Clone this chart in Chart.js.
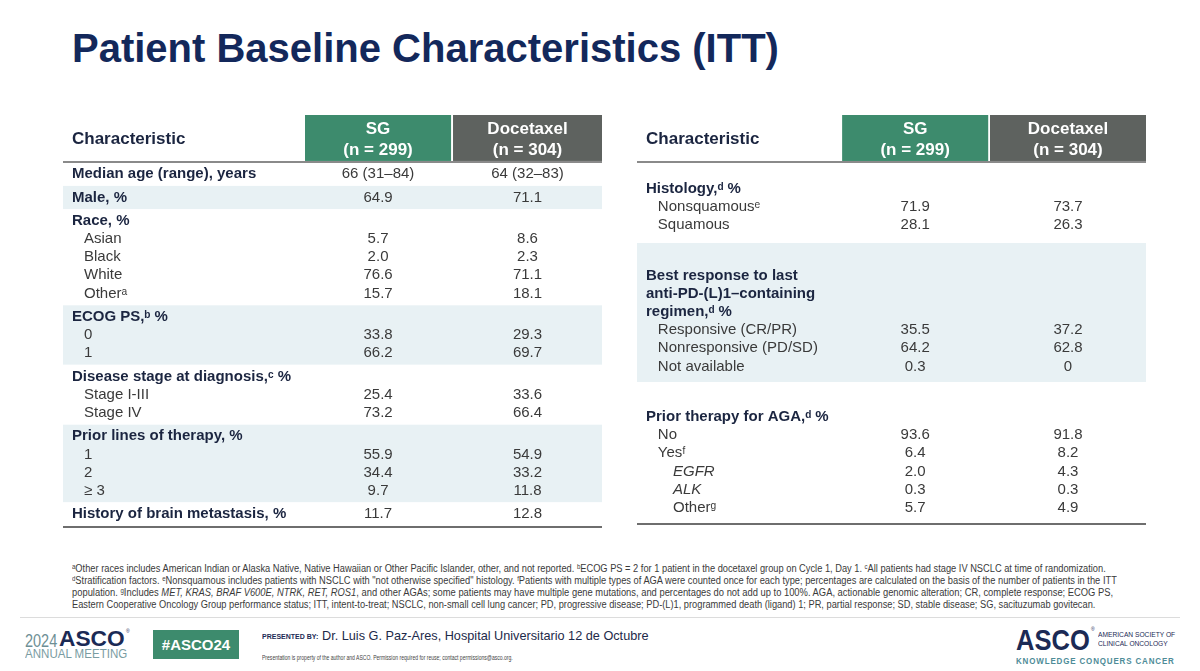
<!DOCTYPE html>
<html><head><meta charset="utf-8">
<script src="https://cdn.jsdelivr.net/npm/chart.js@4.4.1/dist/chart.umd.min.js"></script>
<style>
html,body{margin:0;padding:0;background:#fff;}
body{width:1200px;height:671px;position:relative;overflow:hidden;font-family:"Liberation Sans",Arial,sans-serif;}
#title{position:absolute;left:72px;top:26px;font-size:40px;font-weight:bold;color:#13285b;white-space:nowrap;line-height:44px;}
.tbl{position:absolute;}
.fn{position:absolute;left:72px;font-size:10px;line-height:12px;color:#3a3a3a;white-space:nowrap;transform-origin:0 0;}
.fn sup{font-size:6.5px;vertical-align:3px;line-height:0;}
.abs{position:absolute;white-space:nowrap;transform-origin:0 0;}
.reg{position:relative;font-size:6px;font-weight:normal;}
#sep{position:absolute;left:20px;top:617px;width:1160px;height:1px;background:#dcdcdc;}
</style>
</head><body>
<div id="title">Patient Baseline Characteristics (ITT)</div>
<div class="tbl" style="left:63px;top:115px;width:539px;height:413px;"><canvas id="left"></canvas></div>
<div class="tbl" style="left:637px;top:115px;width:509px;height:410px;"><canvas id="right"></canvas></div>

<div class="fn" style="top:563px" data-w="1034"><sup>a</sup>Other races includes American Indian or Alaska Native, Native Hawaiian or Other Pacific Islander, other, and not reported. <sup>b</sup>ECOG PS = 2 for 1 patient in the docetaxel group on Cycle 1, Day 1. <sup>c</sup>All patients had stage IV NSCLC at time of randomization.</div>
<div class="fn" style="top:575px" data-w="1045"><sup>d</sup>Stratification factors. <sup>e</sup>Nonsquamous includes patients with NSCLC with "not otherwise specified" histology. <sup>f</sup>Patients with multiple types of AGA were counted once for each type; percentages are calculated on the basis of the number of patients in the ITT</div>
<div class="fn" style="top:587px" data-w="1041">population. <sup>g</sup>Includes <i>MET, KRAS, BRAF V600E, NTRK, RET, ROS1</i>, and other AGAs; some patients may have multiple gene mutations, and percentages do not add up to 100%. AGA, actionable genomic alteration; CR, complete response; ECOG PS,</div>
<div class="fn" style="top:599px" data-w="1023">Eastern Cooperative Oncology Group performance status; ITT, intent-to-treat; NSCLC, non-small cell lung cancer; PD, progressive disease; PD-(L)1, programmed death (ligand) 1; PR, partial response; SD, stable disease; SG, sacituzumab govitecan.</div>

<div id="sep"></div>
<div class="abs" style="left:25px;top:631px;font-size:19px;line-height:19px;color:#6e8f95;" data-w="32">2024</div>
<div class="abs" style="left:59px;top:628px;font-size:22px;line-height:22px;font-weight:bold;color:#1b2a55;" data-w="66">ASCO</div>
<div class="abs" style="left:126px;top:629px;font-size:5px;line-height:5px;color:#1b2a55;">®</div>
<div class="abs" style="left:25px;top:648px;font-size:12px;line-height:13px;color:#7a9ca2;" data-w="102">ANNUAL MEETING</div>
<div class="abs" style="left:153px;top:630px;width:86px;height:29px;background:#3d8b6d;color:#fff;font-weight:bold;font-size:15px;line-height:29px;text-align:center;">#ASCO24</div>
<div class="abs" style="left:262px;top:632px;font-size:7.5px;font-weight:bold;color:#1b2a55;line-height:10px;" data-w="56">PRESENTED BY:</div>
<div class="abs" style="left:322px;top:628px;font-size:13px;color:#1d2a4a;line-height:16px;" data-w="327">Dr. Luis G. Paz-Ares, Hospital Universitario 12 de Octubre</div>
<div class="abs" style="left:262px;top:653px;font-size:7px;color:#444;line-height:9px;" data-w="251">Presentation is property of the author and ASCO. Permission required for reuse; contact permissions@asco.org.</div>

<div class="abs" style="left:1016px;top:625px;font-size:30px;font-weight:bold;color:#1b2a55;line-height:30px;" data-w="74">ASCO</div>
<div class="abs" style="left:1091px;top:627px;font-size:5px;line-height:5px;color:#1b2a55;">®</div>
<div class="abs" style="left:1098px;top:630px;font-size:7px;color:#1b2a55;line-height:9px;" data-w="77">AMERICAN SOCIETY OF</div>
<div class="abs" style="left:1098px;top:639px;font-size:7px;color:#1b2a55;line-height:9px;" data-w="70">CLINICAL ONCOLOGY</div>
<div class="abs" style="left:1016px;top:655px;font-size:9.5px;font-weight:bold;color:#4e8c98;line-height:11px;letter-spacing:1px;" data-w="159">KNOWLEDGE CONQUERS CANCER</div>

<script>
// ===================== DATA =====================
const headerLabel = 'Characteristic';
const armNames = ['SG', 'Docetaxel'];
const armNs = ['(n = 299)', '(n = 304)'];

// Left table
const leftRows = ['Median age (range), years', 'Male, %', 'Race, %', 'Asian', 'Black', 'White', 'Other\u1D43',
  'ECOG PS,\u1D47 %', '0', '1', 'Disease stage at diagnosis,\u1D9C %', 'Stage I-III', 'Stage IV',
  'Prior lines of therapy, %', '1', '2', '\u2265 3', 'History of brain metastasis, %'];
const leftLevel = [0, 0, 0, 1, 1, 1, 1, 0, 1, 1, 0, 1, 1, 0, 1, 1, 1, 0];
const leftGroup = [0, 1, 2, 2, 2, 2, 2, 3, 3, 3, 4, 4, 4, 5, 5, 5, 5, 6];
const leftSG = ['66 (31\u201384)', '64.9', '', '5.7', '2.0', '76.6', '15.7', '', '33.8', '66.2', '', '25.4', '73.2', '', '55.9', '34.4', '9.7', '11.7'];
const leftDoc = ['64 (32\u201383)', '71.1', '', '8.6', '2.3', '71.1', '18.1', '', '29.3', '69.7', '', '33.6', '66.4', '', '54.9', '33.2', '11.8', '12.8'];
const leftShaded = [1, 3, 5];

// Right table
const rightRows = ['Histology,\u1D48 %', 'Nonsquamous\u1D49', 'Squamous', 'Best response to last', 'anti-PD-(L)1\u2013containing',
  'regimen,\u1D48 %', 'Responsive (CR/PR)', 'Nonresponsive (PD/SD)', 'Not available', 'Prior therapy for AGA,\u1D48 %',
  'No', 'Yes\u1DA0', 'EGFR', 'ALK', 'Other\u1D4D'];
const rightLevel = [0, 1, 1, 0, 0, 0, 1, 1, 1, 0, 1, 1, 2, 2, 2];
const rightItalic = [0, 0, 0, 0, 0, 0, 0, 0, 0, 0, 0, 0, 1, 1, 0];
const rightGroup = [0, 0, 0, 1, 1, 1, 1, 1, 1, 2, 2, 2, 2, 2, 2];
const rightSG = ['', '71.9', '28.1', '', '', '', '35.5', '64.2', '0.3', '', '93.6', '6.4', '2.0', '0.3', '5.7'];
const rightDoc = ['', '73.7', '26.3', '', '', '', '37.2', '62.8', '0', '', '91.8', '8.2', '4.3', '0.3', '4.9'];
const rightShaded = [1];

// ===================== LAYOUT / STYLE =====================
const leftLayout = { edges: [0, 0.449, 0.720, 0.7236, 1], indent: [0.0167, 0.039, 0.039], gap: 0.3,
  yMin: -3.26, yMax: 19.57, headTop: -3.26, headBottom: -0.72, bandPad: [0.64, 0.64], armY: [-2.49, -1.33], charY: -1.93 };
const rightLayout = { edges: [0, 0.403, 0.690, 0.6935, 1], indent: [0.0177, 0.041, 0.0707], gap: 1.8,
  yMin: -4.09, yMax: 18.56, headTop: -4.09, headBottom: -1.55, bandPad: [1.82, 0.86], armY: [-3.31, -2.15], charY: -2.76 };

const FONT = '"Liberation Sans", Arial, sans-serif';
const headColors = ['#3d8b6d', '#5e625f'];

function positions(groups, gap) {
  const p = [];
  groups.forEach((g, i) => { p.push(i === 0 ? 0 : p[i - 1] + 1 + (g !== groups[i - 1] ? gap : 0)); });
  return p;
}

function makeTable(id, rows, level, italic, groups, sg, doc, shaded, L) {
  const pos = positions(groups, L.gap);
  const sgX = (L.edges[1] + L.edges[2]) / 2, docX = (L.edges[3] + L.edges[4]) / 2;
  const bands = shaded.map(g => {
    const idx = groups.map((v, i) => v === g ? i : -1).filter(i => i >= 0);
    return [pos[idx[0]] - L.bandPad[0], pos[idx[idx.length - 1]] + L.bandPad[1]];
  });
  const plugin = {
    id: 'tbl_' + id,
    beforeDatasetsDraw(chart) {
      const { ctx, scales: { x, y } } = chart;
      ctx.save();
      const x0 = x.getPixelForValue(0), x1 = x.getPixelForValue(1);
      ctx.fillStyle = '#e8f1f4';
      bands.forEach(b => {
        const t = y.getPixelForValue(b[0]), bt = y.getPixelForValue(b[1]);
        ctx.fillRect(x0, t, x1 - x0, bt - t);
      });
      const ht = y.getPixelForValue(L.headTop), hb = y.getPixelForValue(L.headBottom);
      [[1, 2], [3, 4]].forEach((e, k) => {
        const a = x.getPixelForValue(L.edges[e[0]]), b = x.getPixelForValue(L.edges[e[1]]);
        ctx.fillStyle = headColors[k];
        ctx.fillRect(a, ht, b - a, hb - ht);
        ctx.fillStyle = '#ffffff';
        ctx.font = 'bold 17px ' + FONT;
        ctx.textAlign = 'center'; ctx.textBaseline = 'middle';
        ctx.fillText(armNames[k], (a + b) / 2, y.getPixelForValue(L.armY[0]));
        ctx.fillText(armNs[k], (a + b) / 2, y.getPixelForValue(L.armY[1]));
      });
      ctx.fillStyle = '#1b2540';
      ctx.font = 'bold 17px ' + FONT;
      ctx.textAlign = 'left';
      ctx.fillText(headerLabel, x.getPixelForValue(L.indent[0]), y.getPixelForValue(L.charY));
      ctx.strokeStyle = '#8a8a8a'; ctx.lineWidth = 2;
      ctx.beginPath(); ctx.moveTo(x0, hb + 1); ctx.lineTo(x1, hb + 1); ctx.stroke();
      ctx.strokeStyle = '#6e6e6e';
      const yb = y.getPixelForValue(L.yMax) - 1;
      ctx.beginPath(); ctx.moveTo(x0, yb); ctx.lineTo(x1, yb); ctx.stroke();
      ctx.restore();
    },
    afterDatasetsDraw(chart) {
      const { ctx } = chart;
      ctx.save();
      ctx.textBaseline = 'middle';
      chart.data.datasets.forEach((ds, d) => {
        const meta = chart.getDatasetMeta(d);
        meta.data.forEach((el, j) => {
          const txt = ds.texts[j];
          if (!txt) return;
          if (d === 0) {
            const lv = level[j];
            ctx.font = (italic[j] ? 'italic ' : '') + (lv === 0 ? 'bold ' : '') + '15px ' + FONT;
            ctx.fillStyle = lv === 0 ? '#1b2540' : '#3a3a3a';
            ctx.textAlign = 'left';
          } else {
            ctx.font = '15px ' + FONT;
            ctx.fillStyle = '#3a3a3a';
            ctx.textAlign = 'center';
          }
          ctx.fillText(txt, el.x, el.y);
        });
      });
      ctx.restore();
    }
  };
  new Chart(document.getElementById(id), {
    type: 'scatter',
    data: {
      datasets: [
        { label: headerLabel, texts: rows, data: rows.map((r, i) => ({ x: L.indent[level[i]], y: pos[i] })) },
        { label: armNames[0], texts: sg, data: sg.map((v, i) => ({ x: sgX, y: pos[i] })) },
        { label: armNames[1], texts: doc, data: doc.map((v, i) => ({ x: docX, y: pos[i] })) }
      ]
    },
    options: {
      responsive: true, maintainAspectRatio: false, animation: false,
      events: [],
      layout: { padding: 0 },
      elements: { point: { radius: 0, hoverRadius: 0 } },
      scales: {
        x: { type: 'linear', min: 0, max: 1, display: false },
        y: { type: 'linear', min: L.yMin, max: L.yMax, reverse: true, display: false }
      },
      plugins: { legend: { display: false }, tooltip: { enabled: false } }
    },
    plugins: [plugin]
  });
}

makeTable('left', leftRows, leftLevel, leftLevel.map(() => 0), leftGroup, leftSG, leftDoc, leftShaded, leftLayout);
makeTable('right', rightRows, rightLevel, rightItalic, rightGroup, rightSG, rightDoc, rightShaded, rightLayout);

document.querySelectorAll('[data-w]').forEach(el => {
  const w = el.scrollWidth || el.getBoundingClientRect().width;
  const target = parseFloat(el.dataset.w);
  if (w > 0) el.style.transform = 'scaleX(' + (target / w) + ')';
});
</script>
</body></html>
